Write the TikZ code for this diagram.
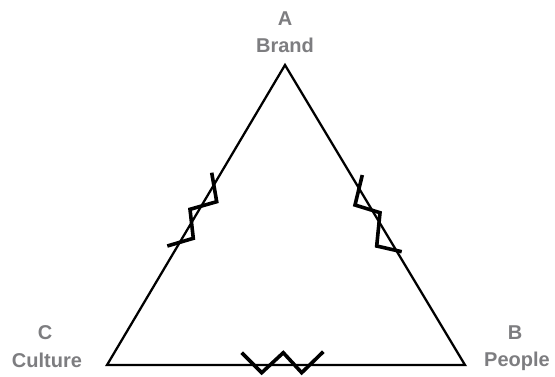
\documentclass[tikz,border=0pt]{standalone}
\usepackage{fontspec}
\setmainfont{Liberation Sans}
\definecolor{labelgray}{RGB}{125,125,128}
\begin{document}
\begin{tikzpicture}[x=0.75pt,y=-0.75pt,
  lbl/.style={text=labelgray,font=\bfseries\fontsize{15}{17}\selectfont,anchor=base,inner sep=0pt},
  edge/.style={draw=black,line width=1.7pt,line join=miter},
  zig/.style={draw=black,line width=2.7pt,line join=miter}]
\useasboundingbox (0,0) rectangle (555,376);
\coordinate (A) at (285,65);
\coordinate (B) at (465,365);
\coordinate (C) at (107,365);
\draw[edge] (A) -- (B) -- (C) -- cycle;
\node[lbl] (la) at (285,25) {A};
\node[lbl] (lan) at (285,52) {Brand};
\node[lbl] (lc) at (45,339) {C};
\node[lbl] (lcn) at (47,367) {Culture};
\node[lbl] (lb) at (515,339) {B};
\node[lbl] (lbn) at (517,366) {People};
\draw[zig] (211.7,172.7) -- (216.7,201.7) -- (190,209.3) -- (193.3,238.3) -- (167.3,246);
\draw[zig] (362.3,175) -- (355,205) -- (380,212.7) -- (376.7,246) -- (401.7,251.7);
\draw[zig] (241.7,352.7) -- (261.7,372.7) -- (283.3,352.7) -- (301.7,372.7) -- (323.3,351.7);
\end{tikzpicture}
\end{document}
